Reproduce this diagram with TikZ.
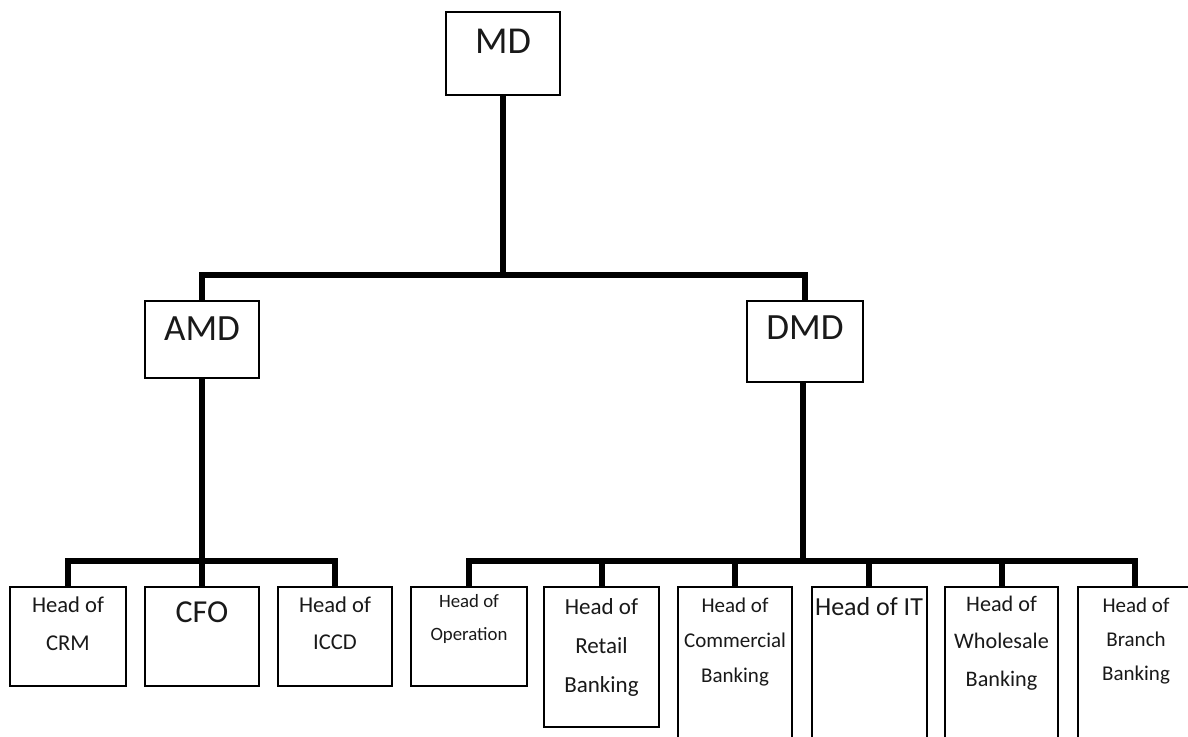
\documentclass[tikz,border=0pt]{standalone}
\usepackage{fontspec}
\setmainfont{Carlito}
\begin{document}
\begin{tikzpicture}[x=0.5pt,y=-0.5pt,
  box/.style={draw, line width=1pt, inner sep=0pt, fill=none},
  conn/.style={line width=3pt, line join=miter},
  lbl/.style={anchor=base, align=center, inner sep=0pt, text=black!90}]
\path[use as bounding box, clip] (0,0) rectangle (1188,736);
\fill[white] (0,0) rectangle (1188,736);
% boxes
\node[box, minimum width=57pt, minimum height=41.5pt] (md) at (503,53.5) {};
\node[box, minimum width=57pt, minimum height=38.5pt] (amd) at (202,339.5) {};
\node[box, minimum width=58pt, minimum height=40.5pt] (dmd) at (805,341.5) {};
\node[box, minimum width=58pt, minimum height=49.5pt] (crm) at (68,636.5) {};
\node[box, minimum width=57pt, minimum height=49.5pt] (cfo) at (202,636.5) {};
\node[box, minimum width=57pt, minimum height=49.5pt] (iccd) at (335,636.5) {};
\node[box, minimum width=58pt, minimum height=49.5pt] (op) at (469,636.5) {};
\node[box, minimum width=57.5pt, minimum height=70pt] (retail) at (601.5,657) {};
\node[box, minimum width=57pt, minimum height=91pt] (comm) at (735,678) {};
\node[box, minimum width=57.5pt, minimum height=91pt] (it) at (869,678) {};
\node[box, minimum width=56.5pt, minimum height=91pt] (whole) at (1001.5,678) {};
\node[box, minimum width=57pt, minimum height=91pt] (branch) at (1135,678) {};
% labels (base anchor = baseline of the last line)
\node[lbl, font={\fontsize{19}{22}\selectfont}] (tmd) at (503,53) {MD};
\node[lbl, font={\fontsize{18.5}{22}\selectfont}] (tamd) at (202,340) {AMD};
\node[lbl, font={\fontsize{18.5}{22}\selectfont}] (tdmd) at (805,339) {DMD};
\node[lbl, font={\fontsize{11.3}{19}\selectfont}] (tcrm) at (68,650) {Head of\\CRM};
\node[lbl, font={\fontsize{16}{19}\selectfont}] (tcfo) at (202,622) {CFO};
\node[lbl, font={\fontsize{11.3}{18.5}\selectfont}] (ticcd) at (335,649) {Head of\\ICCD};
\node[lbl, font={\fontsize{9.4}{16.5}\selectfont}] (top) at (469,640) {Head of\\Operation};
\node[lbl, font={\fontsize{11.5}{19.5}\selectfont}] (tretail) at (601.5,692) {Head of\\Retail\\Banking};
\node[lbl, font={\fontsize{10.5}{17.5}\selectfont}] (tcomm) at (735,682) {Head of\\Commercial\\Banking};
\node[lbl, font={\fontsize{13}{16}\selectfont}] (tit) at (869,615) {Head of IT};
\node[lbl, font={\fontsize{11.1}{18.75}\selectfont}] (twhole) at (1001.5,686) {Head of\\Wholesale\\Banking};
\node[lbl, font={\fontsize{10.5}{17}\selectfont}] (tbranch) at (1136,680) {Head of\\Branch\\Banking};
% junctions
\coordinate (j1) at (503,275);
\coordinate (j2) at (202,561);
\coordinate (j3) at (803,561);
% connectors
\draw[conn] (md.south) -- (j1);
\draw[conn] (amd.north) |- (j1) -| (dmd.north);
\draw[conn] (amd.south) -- (j2);
\draw[conn] (crm.north) |- (j2) -| (iccd.north);
\draw[conn] (cfo.north) -- (j2);
\draw[conn] (dmd.south -| j3) -- (j3);
\draw[conn] (op.north) |- (j3) -| (branch.north);
\draw[conn] (retail.north) -- (retail.north |- j3);
\draw[conn] (comm.north) -- (comm.north |- j3);
\draw[conn] (it.north) -- (it.north |- j3);
\draw[conn] (whole.north) -- (whole.north |- j3);
\end{tikzpicture}
\end{document}
